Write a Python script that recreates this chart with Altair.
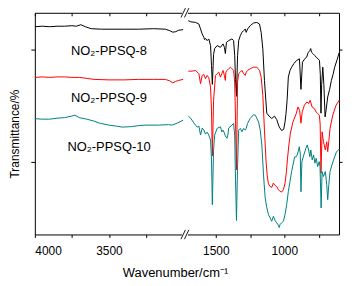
import altair as alt
import pandas as pd

# ---------------- data (wavenumber in cm-1, transmittance in arbitrary offset units) -------------
SERIES = ["8", "9", "10"]
COLORS = ["#000000", "#ff0000", "#008080"]

WN_8 = [4000, 3950, 3900, 3850, 3800, 3750, 3720, 3690, 3660, 3620, 3550, 3500, 3400, 3300, 3200, 3120,
        3090, 3070, 3050, 3030, 3000,
        1700, 1683, 1647, 1623, 1611, 1599, 1587, 1582, 1575, 1563, 1551, 1538, 1531, 1525, 1516, 1508,
        1490, 1466, 1447, 1437, 1430, 1422, 1406, 1382, 1370, 1362, 1356, 1349, 1341, 1333, 1321, 1309,
        1297, 1285, 1278, 1268, 1249, 1225, 1201, 1181, 1169, 1157, 1145, 1135, 1128, 1111, 1092, 1072,
        1056, 1038, 1020, 1005, 995, 988, 980, 971, 959, 947, 930, 911, 890, 879, 868, 850, 838, 826,
        814, 808, 802, 790, 778, 766, 754, 744, 738, 733, 728, 720, 712, 703, 695, 684, 670, 657, 645,
        633, 615, 600]
T_8 = [208, 208.5, 208, 208.5, 208.5, 209, 208.5, 210, 208, 206, 205.5, 205.5, 205.5, 205.5, 206, 205.5,
       204, 202.5, 203, 204.5, 205,
       214, 213, 212.3, 210.7, 205.7, 200.7, 197.3, 195, 196.3, 194, 195.7, 189, 169, 150, 180, 186,
       189, 187.3, 190.7, 187.3, 181, 192.3, 194, 195.7, 194, 179, 155, 138, 179, 194, 199, 202.3,
       204, 205.7, 202.3, 205.7, 209, 211.7, 212.3, 210.7, 202.3, 185.7, 154, 134, 121, 118, 115.7, 118,
       114.7, 107.3, 103.5, 104.7, 112.3, 120.7, 134, 157.3, 164, 167.3, 171, 174, 175.7, 145, 172.3, 176, 177.3, 182,
       184, 186, 182.3, 180.7, 179, 177, 175.7, 174, 160, 121, 150, 167.3, 150, 117.3, 125, 137.3, 145, 154, 160,
       167.3, 175, 182]

WN_9 = [4000, 3950, 3900, 3850, 3800, 3750, 3700, 3650, 3600, 3500, 3400, 3300, 3200, 3120, 3090, 3070,
        3050, 3030, 3000,
        1700, 1672, 1647, 1623, 1611, 1599, 1587, 1575, 1563, 1551, 1538, 1531, 1525, 1516, 1502, 1490,
        1478, 1466, 1456, 1447, 1437, 1430, 1426, 1418, 1406, 1393, 1382, 1370, 1362, 1356, 1349, 1341,
        1333, 1321, 1309, 1297, 1285, 1278, 1268, 1249, 1225, 1201, 1181, 1169, 1157, 1145, 1134, 1125,
        1116, 1104, 1092, 1080, 1067, 1056, 1043, 1031, 1020, 1007, 995, 985, 978, 967, 956, 937, 913,
        901, 889, 879, 870, 854, 836, 822, 812, 798, 781, 769, 757, 745, 739, 733, 725, 715, 701, 691,
        684, 676, 667, 647, 623, 600]
T_9 = [157, 157.5, 157, 157.5, 157.5, 157, 157, 156, 155, 154.5, 154.5, 155, 155, 155, 153.5, 151.5,
       153, 154, 155,
       163.3, 163.3, 164, 160.7, 150.7, 159, 160, 155.7, 159, 156.7, 147.3, 124, 78, 134, 159, 160.7,
       162.3, 157.3, 160.7, 164, 159, 154, 162.3, 164, 165.7, 167.3, 165.7, 164, 152.3, 114, 64, 152.3,
       160.7, 162.3, 164, 160.7, 159, 162.3, 164, 165.7, 167.3, 167.3, 164, 157.3, 139, 104, 74, 58,
       50, 47.3, 46.3, 50.7, 48.3, 47.3, 44, 42.3, 41.7, 44, 50.7, 62, 74, 89, 101, 112.3, 120.7,
       127.3, 124, 111, 122.3, 129, 132.3, 130.7, 134, 127.3, 125.7, 122.3, 120.7, 119, 110, 60.7, 102.3, 92.3, 84, 92.3,
       82.3, 92.3, 105.7, 119, 129, 134]

WN_10 = [4000, 3950, 3900, 3850, 3800, 3755, 3730, 3700, 3650, 3600, 3565, 3500, 3450, 3410, 3350, 3300,
         3250, 3160, 3100, 3075, 3040, 3000,
         1700, 1683, 1659, 1635, 1623, 1611, 1599, 1587, 1575, 1563, 1551, 1538, 1531, 1525, 1516, 1508,
         1490, 1466, 1456, 1447, 1437, 1430, 1418, 1412, 1406, 1382, 1370, 1362, 1356, 1349, 1341, 1333,
         1321, 1309, 1297, 1285, 1278, 1268, 1249, 1225, 1212, 1201, 1188, 1176, 1164, 1152, 1140, 1128,
         1116, 1104, 1092, 1080, 1067, 1056, 1043, 1038, 1031, 1020, 1007, 995, 983, 971, 959, 947, 937,
         925, 911, 899, 891, 884, 879, 872, 858, 843, 833, 823, 814, 807, 797, 787, 777, 768, 757, 746,
         740, 732, 725, 715, 701, 691, 684, 676, 667, 653, 637, 620, 604, 600]
T_10 = [115.5, 115, 115, 116, 116.5, 118, 119, 116.5, 115, 113, 111, 109, 108, 107, 107.5, 108.5,
        109, 109, 109.5, 109, 111, 114,
        118, 116, 111, 107, 108, 99, 106, 104, 100, 102, 99, 94, 74, 29, 84, 99,
        105.7, 107.3, 102.3, 104, 101, 98, 95.7, 99, 106, 109, 110.7, 99, 54, 13, 69, 104,
        105.7, 102.3, 105.7, 104, 105.7, 110.7, 115.7, 119.5, 119, 116, 112, 104, 89, 59, 36, 26,
        19, 15.7, 12.3, 17.3, 13, 10.7, 8.3, 6, 9, 10.7, 12.3, 19, 29, 42.3, 52.3, 62.3, 69,
        77, 77.3, 82.3, 87.3, 80, 42, 72.3, 79, 85.7, 89, 84, 77.3, 84, 74, 79, 70.7, 75.7, 67.3, 72.3,
        67.3, 25.7, 62.3, 57.3, 62.3, 49, 34, 49, 62.3, 69, 75.7, 82.3, 84, 85]

LABELS = ["NO\u2082-PPSQ-8", "NO\u2082-PPSQ-9", "NO\u2082-PPSQ-10"]
LABEL_WN = [3500, 3500, 3500]
LABEL_T = [184, 136, 87]

X_MAJOR = [4000, 3500, 1500, 1000]
X_MINOR = [3750, 3250, 1250, 750]
Y_TICKS = [185, 72]

# broken-axis mapping: 4000-3000 on the left, 1700-600 on the right
L_K, R_K, R_OFF = 0.1492, 0.138, 182.0
BREAK_POS = 152.0
X_DOMAIN = [0, 306]
Y_DOMAIN = [-1, 222]


def pos(w):
    return (4000 - w) * L_K if w >= 2500 else R_OFF + (1500 - w) * R_K


POS_EXPR = f"datum.wn >= 2500 ? (4000 - datum.wn) * {L_K} : {R_OFF} + (1500 - datum.wn) * {R_K}"
INV = f"(datum.value < {BREAK_POS} ? 4000 - datum.value / {L_K} : 1500 - (datum.value - {R_OFF}) / {R_K})"
LABEL_EXPR = (f"indexof([{','.join(str(v) for v in X_MAJOR)}], round({INV})) >= 0 ? "
              f"format(round({INV}), 'd') : ''")
TICK_POS = sorted(pos(w) for w in X_MAJOR + X_MINOR)

rows = []
for s, wns, ts in zip(SERIES, [WN_8, WN_9, WN_10], [T_8, T_9, T_10]):
    for w, t in zip(wns, ts):
        rows.append({"series": s, "wn": w, "t": t, "seg": s + ("L" if w >= 2500 else "R")})
df = pd.DataFrame(rows)

lab_df = pd.DataFrame({"label": LABELS, "wn": LABEL_WN, "t": LABEL_T})

FONT = "Liberation Sans"
xscale = alt.Scale(domain=X_DOMAIN, nice=False, zero=False)
yscale = alt.Scale(domain=Y_DOMAIN, nice=False, zero=False)

lines = alt.Chart(df).transform_calculate(pos=POS_EXPR).mark_line(strokeWidth=1).encode(
    x=alt.X("pos:Q", scale=xscale, axis=alt.Axis(
        orient="bottom", values=TICK_POS, labelExpr=LABEL_EXPR, title="Wavenumber/cm\u207b\u00b9",
        domain=False, grid=False, tickSize=3, tickColor="#000", labelColor="#000", labelFont=FONT,
        labelFontSize=12, labelPadding=8, titleFont=FONT, titleFontSize=13, titleFontWeight="normal",
        titleColor="#000", titleX=141, titleY=42, titleBaseline="alphabetic", titleAlign="center")),
    y=alt.Y("t:Q", scale=yscale, axis=alt.Axis(
        orient="left", values=Y_TICKS, labels=False, title="Transmittance/%", domain=False, grid=False,
        tickSize=4, tickColor="#000", titleFont=FONT, titleFontSize=12, titleFontWeight="normal",
        titleColor="#000", titleAngle=270, titleX=-16.5, titleY=121.5, titleBaseline="alphabetic",
        titleAlign="center")),
    color=alt.Color("series:N", scale=alt.Scale(domain=SERIES, range=COLORS), legend=None),
    detail="seg:N",
)

labels = alt.Chart(lab_df).transform_calculate(pos=POS_EXPR).mark_text(
    font=FONT, fontSize=13, color="#000", align="center", baseline="middle").encode(
    x=alt.X("pos:Q", scale=xscale, axis=alt.Axis(
        orient="top", values=TICK_POS, labels=False, title=None, domain=False, grid=False,
        tickSize=3, tickColor="#000", offset=-3)),
    y=alt.Y("t:Q", scale=yscale, axis=alt.Axis(
        orient="right", values=Y_TICKS, labels=False, title=None, domain=False, grid=False,
        tickSize=3, tickColor="#000")),
    text="label:N",
)

# axis-break decoration: white gap in the frame plus "//" marks
gap_df = pd.DataFrame({
    "x": [BREAK_POS - 4, BREAK_POS - 4], "x2": [BREAK_POS + 2, BREAK_POS + 2],
    "y": [Y_DOMAIN[1] - 1.5, Y_DOMAIN[0] - 1.5], "y2": [Y_DOMAIN[1] + 1.5, Y_DOMAIN[0] + 1.5]})
gap = alt.Chart(gap_df).mark_rect(color="white").encode(
    x=alt.X("x:Q", scale=xscale, axis=None), x2="x2:Q",
    y=alt.Y("y:Q", scale=yscale, axis=None), y2="y2:Q")

sl = []
for yc in [Y_DOMAIN[1], Y_DOMAIN[0]]:
    for dx in [-5, -1.5]:
        sl.append({"x": BREAK_POS + dx, "x2": BREAK_POS + dx + 4.5, "y": yc - 4.7, "y2": yc + 4.7})
slash = alt.Chart(pd.DataFrame(sl)).mark_rule(color="black", strokeWidth=0.9).encode(
    x=alt.X("x:Q", scale=xscale, axis=None), x2="x2:Q",
    y=alt.Y("y:Q", scale=yscale, axis=None), y2="y2:Q")

chart = alt.layer(lines, labels, gap, slash).resolve_axis(x="independent", y="independent").properties(
    width=306, height=223,
    autosize=alt.AutoSizeParams(type="none"),
    padding={"left": 27, "top": 4, "right": 5, "bottom": 48},
).configure_view(stroke="#000", strokeWidth=1)

chart.save("out.html", embed_options={"renderer": "svg", "actions": False})
